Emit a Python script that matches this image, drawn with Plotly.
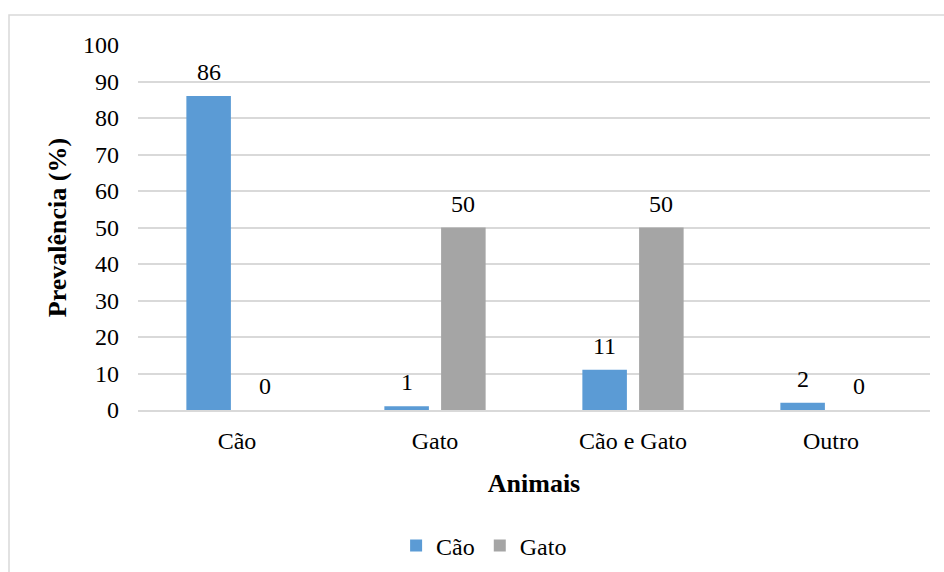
import plotly.graph_objects as go

# Prevalence (%) by animal kept at home, split by host species
categorias = ["Cão", "Gato", "Cão e Gato", "Outro"]
serie_cao = [86, 1, 11, 2]
serie_gato = [0, 50, 50, 0]
nomes_series = ["Cão", "Gato"]
y_ticks = [0, 10, 20, 30, 40, 50, 60, 70, 80, 90, 100]

AZUL = "#5B9BD5"
CINZA = "#A5A5A5"
GRADE = "#D9D9D9"
FONTE = "Times New Roman"

W, H = 944, 572
ML, MR, MT, MB = 138, 14, 45, 162
plot_w = W - ML - MR
plot_h = H - MT - MB

xpos = list(range(len(categorias)))

fig = go.Figure()
fig.add_trace(go.Bar(x=xpos, y=serie_cao, name=nomes_series[0],
                     marker=dict(color=AZUL, line=dict(width=0))))
fig.add_trace(go.Bar(x=xpos, y=serie_gato, name=nomes_series[1],
                     marker=dict(color=CINZA, line=dict(width=0))))

bargap = 0.427
bargroupgap = 0.215
slot = (1 - bargap) / 2
offsets = [-slot / 2, slot / 2]

# value labels above each bar
anots = []
for serie, off in zip([serie_cao, serie_gato], offsets):
    for xi, v in zip(xpos, serie):
        anots.append(dict(x=xi + off, y=v, xref="x", yref="y", text=str(v),
                          showarrow=False, yanchor="middle", yshift=24,
                          font=dict(family=FONTE, size=24, color="#000000")))

fig.update_layout(
    width=W, height=H,
    margin=dict(l=ML, r=MR, t=MT, b=MB, autoexpand=False),
    paper_bgcolor="white", plot_bgcolor="white",
    barmode="group", bargap=bargap, bargroupgap=bargroupgap,
    font=dict(family=FONTE, size=24, color="#000000"),
    showlegend=True,
    legend=dict(orientation="h", x=0.437, xanchor="center",
                y=-(546 - (H - MB)) / plot_h, yanchor="middle",
                font=dict(family=FONTE, size=24, color="#000000"),
                bgcolor="rgba(0,0,0,0)", traceorder="normal"),
    annotations=anots,
    shapes=[dict(type="rect", xref="paper", yref="paper",
                 x0=(9 - ML) / plot_w, x1=(W + 20 - ML) / plot_w,
                 y0=-(H + 20 - (H - MB)) / plot_h, y1=((H - MB) - 15) / plot_h,
                 line=dict(color=GRADE, width=1.5), layer="below")],
)

fig.update_xaxes(
    tickmode="array", tickvals=xpos, ticktext=categorias,
    range=[-0.5, len(categorias) - 0.5], automargin=False,
    showline=True, linecolor=GRADE, linewidth=1.5,
    showgrid=False, zeroline=False, ticks="",
    tickfont=dict(family=FONTE, size=24),
    ticklabelstandoff=8,
    title=dict(text="<b>Animais</b>", font=dict(family=FONTE, size=26), standoff=21),
)
fig.update_yaxes(
    range=[0, 100], tickmode="array", tickvals=y_ticks, automargin=False,
    showgrid=True, gridcolor=GRADE, gridwidth=1.5,
    zeroline=False, showline=False, ticks="",
    tickfont=dict(family=FONTE, size=24),
    ticklabelstandoff=18,
    title=dict(text="<b>Prevalência (%)</b>", font=dict(family=FONTE, size=26), standoff=8),
)

fig.write_html("out.html")
